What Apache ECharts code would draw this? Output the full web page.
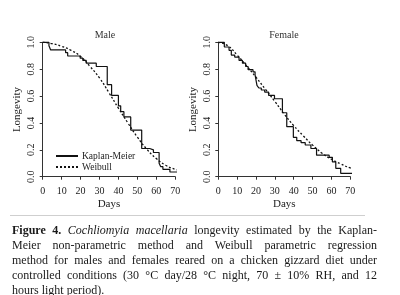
<!DOCTYPE html>
<html>
<head>
<meta charset="utf-8">
<script src="https://cdn.jsdelivr.net/npm/echarts@6/dist/echarts.min.js"></script>
<style>
  body { margin: 0; background: #fff; }
  #chart { position: absolute; left: 0; top: 0; width: 400px; height: 295px; }
  #rule { position: absolute; left: 10px; top: 215px; width: 355px; border-top: 1px solid #cfcfcf; }
  #caption { position: absolute; left: 12px; top: 223px; width: 365px; font: 12px/15px "Liberation Serif", serif; color: #1a1a1a; }
  #caption .j { text-align: justify; text-align-last: justify; }
</style>
</head>
<body>
<div id="chart"></div>
<div id="rule"></div>
<div id="caption">
  <div class="j"><b>Figure 4.</b> <i>Cochliomyia macellaria</i> longevity estimated by the Kaplan-</div>
  <div class="j">Meier non-parametric method and Weibull parametric regression</div>
  <div class="j">method for males and females reared on a chicken gizzard diet under</div>
  <div class="j">controlled conditions (30 °C day/28 °C night, 70 ± 10% RH, and 12</div>
  <div>hours light period).</div>
</div>
<script>
// days / survival
const panelTitles = ['Male', 'Female']
const xTicks = [0, 10, 20, 30, 40, 50, 60, 70]
const yTicks = [0, 0.2, 0.4, 0.6, 0.8, 1.0]

// Kaplan-Meier steps: [day, survival after that day]
const maleKM = [
  [0, 1], [3.3, 0.975], [4.2, 0.943], [12.1, 0.923], [13.2, 0.898],
  [19.8, 0.882], [21.2, 0.865], [23, 0.845], [28.3, 0.82], [34.1, 0.685],
  [36.4, 0.605], [40, 0.527], [41.2, 0.484], [42.9, 0.445], [46.5, 0.347],
  [52.3, 0.21], [56.5, 0.2], [58.5, 0.18], [61.5, 0.1], [62.3, 0.075],
  [63.5, 0.055], [67.2, 0.035], [74, 0.015]
]
const femaleKM = [
  [0, 1], [3.2, 0.965], [5.7, 0.94], [6.9, 0.905], [8.7, 0.89],
  [11, 0.865], [12.8, 0.845], [14.5, 0.82], [15.8, 0.796], [18.4, 0.78],
  [19.5, 0.757], [20.5, 0.68], [21.5, 0.66], [22.8, 0.645], [24.6, 0.63],
  [26.7, 0.605], [29.8, 0.58], [34, 0.476], [36.3, 0.372], [39.8, 0.293],
  [41.6, 0.268], [43.9, 0.253], [46.1, 0.236], [49.1, 0.21], [52.1, 0.16],
  [58.8, 0.144], [60.5, 0.11], [62.3, 0.062], [64.9, 0.025], [73.8, 0.01]
]

// Weibull fit, read every 5 days
const maleWeibull = [
  [0, 1], [5, 0.99], [10, 0.97], [15, 0.94], [20, 0.895], [25, 0.82],
  [30, 0.735], [35, 0.625], [40, 0.51], [45, 0.4], [50, 0.295], [55, 0.205],
  [60, 0.135], [65, 0.085], [70, 0.055], [74, 0.045]
]
const femaleWeibull = [
  [0, 1], [5, 0.975], [10, 0.905], [15, 0.825], [20, 0.74], [25, 0.65],
  [30, 0.56], [35, 0.465], [40, 0.38], [45, 0.305], [50, 0.235], [55, 0.175],
  [60, 0.13], [65, 0.095], [70, 0.065], [74, 0.05]
]

const seriesNames = ['Kaplan-Meier', 'Weibull']

const font = '"Liberation Serif", serif'
const grids = [
  { left: 42.7, top: 42.3, width: 132.5, height: 134.4 },
  { left: 218.3, top: 42.3, width: 132, height: 134.4 }
]

const makeX = (i) => ({
  type: 'value', gridIndex: i, min: xTicks[0], max: xTicks[xTicks.length - 1], interval: 10,
  offset: 6.5,
  name: 'Days', nameLocation: 'middle', nameGap: 15,
  nameTextStyle: { fontFamily: font, fontSize: 11, color: '#222' },
  axisLine: { lineStyle: { color: '#333', width: 1 } },
  axisTick: { length: 3, lineStyle: { color: '#333' } },
  axisLabel: { margin: 3, fontFamily: font, fontSize: 10, color: '#222' },
  splitLine: { show: false }
})
const makeY = (i) => ({
  type: 'value', gridIndex: i, min: yTicks[0], max: yTicks[yTicks.length - 1], interval: 0.2,
  name: 'Longevity', nameLocation: 'middle', nameGap: 20, nameRotate: 90,
  nameTextStyle: { fontFamily: font, fontSize: 11, color: '#222' },
  axisLine: { show: true, lineStyle: { color: '#333', width: 1 } },
  axisTick: { show: true, length: 3, lineStyle: { color: '#333' } },
  axisLabel: { rotate: 90, margin: 6, fontFamily: font, fontSize: 10, color: '#222',
    formatter: (v) => v.toFixed(1) },
  splitLine: { show: false }
})

const kmSeries = (i, data) => ({
  name: seriesNames[0], type: 'line', xAxisIndex: i, yAxisIndex: i,
  data: data, step: 'end', showSymbol: false, symbol: 'none', clip: false,
  itemStyle: { color: '#111', opacity: 0 },
  lineStyle: { color: '#111', width: 1.2 }
})
const wbSeries = (i, data) => ({
  name: seriesNames[1], type: 'line', xAxisIndex: i, yAxisIndex: i,
  data: data, smooth: true, showSymbol: false, symbol: 'none', clip: false,
  itemStyle: { color: '#111', opacity: 0 },
  lineStyle: { color: '#111', width: 1.3, type: [2, 2] }
})

const chart = echarts.init(document.getElementById('chart'), null, { renderer: 'canvas' })
chart.setOption({
  animation: false,
  backgroundColor: '#fff',
  title: [
    { text: panelTitles[0], left: 100, top: 25, textAlign: 'center',
      textStyle: { fontFamily: font, fontSize: 10, fontWeight: 'normal', color: '#333' } },
    { text: panelTitles[1], left: 279, top: 25, textAlign: 'center',
      textStyle: { fontFamily: font, fontSize: 10, fontWeight: 'normal', color: '#333' } }
  ],
  legend: {
    data: seriesNames, orient: 'vertical', left: 50, top: 146,
    itemWidth: 22, itemHeight: 8, itemGap: 1,
    itemStyle: { opacity: 0 },
    textStyle: { fontFamily: font, fontSize: 9.5, color: '#222', padding: [0, 0, 0, -1] }
  },
  grid: grids,
  xAxis: [makeX(0), makeX(1)],
  yAxis: [makeY(0), makeY(1)],
  series: [
    kmSeries(0, maleKM), wbSeries(0, maleWeibull),
    kmSeries(1, femaleKM), wbSeries(1, femaleWeibull)
  ]
})
</script>
</body>
</html>
